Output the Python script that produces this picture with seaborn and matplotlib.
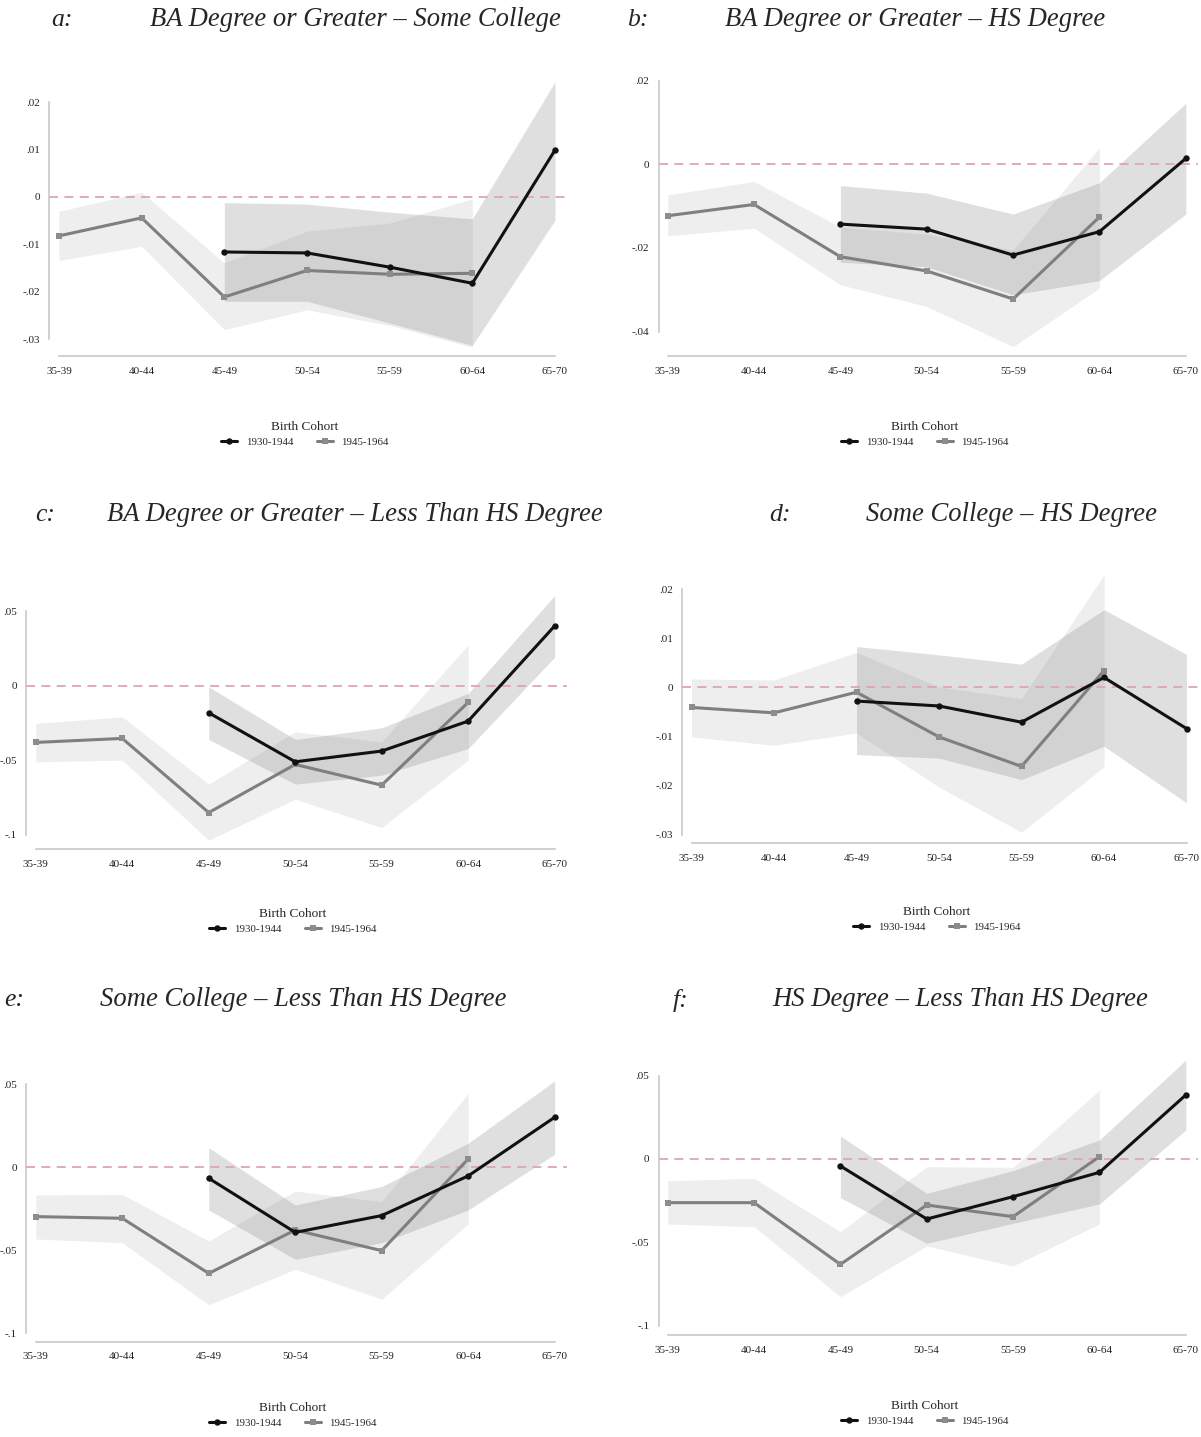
import numpy as np
import pandas as pd
import matplotlib
matplotlib.use("Agg")
import matplotlib.pyplot as plt
import seaborn as sns
from matplotlib.lines import Line2D

sns.set_style("white")
plt.rcParams["font.family"] = ["Liberation Serif", "DejaVu Serif"]

# ---------------- data ----------------
cohorts = ["35-39", "40-44", "45-49", "50-54", "55-59", "60-64", "65-70"]
series_names = ["1930-1944", "1945-1964"]
early_cohorts = ["45-49", "50-54", "55-59", "60-64", "65-70"]
late_cohorts = ["35-39", "40-44", "45-49", "50-54", "55-59", "60-64"]

letters = ["a:", "b:", "c:", "d:", "e:", "f:"]
titles = [
    "BA Degree or Greater \u2013 Some College",
    "BA Degree or Greater \u2013 HS Degree",
    "BA Degree or Greater \u2013 Less Than HS Degree",
    "Some College \u2013 HS Degree",
    "Some College \u2013 Less Than HS Degree",
    "HS Degree \u2013 Less Than HS Degree",
]

# panel a
a_early = [-0.0116, -0.0118, -0.0148, -0.0182, 0.0099]
a_early_lo = [-0.0220, -0.0220, -0.0266, -0.0313, -0.0049]
a_early_hi = [-0.0012, -0.0015, -0.0032, -0.0046, 0.0243]
a_late = [-0.0082, -0.0044, -0.0211, -0.0155, -0.0163, -0.0161]
a_late_lo = [-0.0134, -0.0104, -0.0280, -0.0238, -0.0271, -0.0317]
a_late_hi = [-0.0030, 0.0010, -0.0139, -0.0072, -0.0055, -0.0004]
a_yticks = [0.02, 0.01, 0.0, -0.01, -0.02, -0.03]

# panel b
b_early = [-0.0143, -0.0155, -0.0217, -0.0161, 0.0014]
b_early_lo = [-0.0234, -0.0245, -0.0312, -0.0278, -0.0119]
b_early_hi = [-0.0051, -0.0069, -0.0119, -0.0044, 0.0146]
b_late = [-0.0123, -0.0096, -0.0221, -0.0255, -0.0322, -0.0126]
b_late_lo = [-0.0171, -0.0153, -0.0288, -0.0340, -0.0436, -0.0296]
b_late_hi = [-0.0073, -0.0041, -0.0150, -0.0167, -0.0205, 0.0040]
b_yticks = [0.02, 0.0, -0.02, -0.04]

# panel c
c_early = [-0.0182, -0.0511, -0.0439, -0.0238, 0.0401]
c_early_lo = [-0.0361, -0.0661, -0.0601, -0.0422, 0.0191]
c_early_hi = [-0.0007, -0.0361, -0.0283, -0.0052, 0.0605]
c_late = [-0.0381, -0.0354, -0.0852, -0.0529, -0.0668, -0.0112]
c_late_lo = [-0.0511, -0.0500, -0.1038, -0.0762, -0.0953, -0.0500]
c_late_hi = [-0.0253, -0.0209, -0.0661, -0.0309, -0.0377, 0.0274]
c_yticks = [0.05, 0.0, -0.05, -0.1]

# panel d
d_early = [-0.0028, -0.0038, -0.0071, 0.0020, -0.0084]
d_early_lo = [-0.0137, -0.0144, -0.0188, -0.0120, -0.0235]
d_early_hi = [0.0083, 0.0066, 0.0047, 0.0158, 0.0067]
d_late = [-0.0041, -0.0052, -0.0010, -0.0101, -0.0161, 0.0034]
d_late_lo = [-0.0101, -0.0118, -0.0093, -0.0203, -0.0295, -0.0162]
d_late_hi = [0.0017, 0.0015, 0.0071, 0.0001, -0.0023, 0.0229]
d_yticks = [0.02, 0.01, 0.0, -0.01, -0.02, -0.03]

# panel e
e_early = [-0.0066, -0.0392, -0.0291, -0.0052, 0.0301]
e_early_lo = [-0.0257, -0.0554, -0.0454, -0.0257, 0.0078]
e_early_hi = [0.0118, -0.0227, -0.0116, 0.0145, 0.0520]
e_late = [-0.0297, -0.0307, -0.0639, -0.0378, -0.0502, 0.0050]
e_late_lo = [-0.0432, -0.0454, -0.0829, -0.0614, -0.0795, -0.0341]
e_late_hi = [-0.0167, -0.0163, -0.0444, -0.0143, -0.0207, 0.0446]
e_yticks = [0.05, 0.0, -0.05, -0.1]

# panel f
f_early = [-0.0042, -0.0360, -0.0226, -0.0080, 0.0384]
f_early_lo = [-0.0232, -0.0506, -0.0386, -0.0270, 0.0174]
f_early_hi = [0.0138, -0.0206, -0.0070, 0.0114, 0.0594]
f_late = [-0.0262, -0.0262, -0.0632, -0.0276, -0.0346, 0.0014]
f_late_lo = [-0.0390, -0.0406, -0.0826, -0.0522, -0.0642, -0.0390]
f_late_hi = [-0.0130, -0.0116, -0.0436, -0.0046, -0.0050, 0.0414]
f_yticks = [0.05, 0.0, -0.05, -0.1]

panels = [
    (a_early, a_early_lo, a_early_hi, a_late, a_late_lo, a_late_hi, a_yticks),
    (b_early, b_early_lo, b_early_hi, b_late, b_late_lo, b_late_hi, b_yticks),
    (c_early, c_early_lo, c_early_hi, c_late, c_late_lo, c_late_hi, c_yticks),
    (d_early, d_early_lo, d_early_hi, d_late, d_late_lo, d_late_hi, d_yticks),
    (e_early, e_early_lo, e_early_hi, e_late, e_late_lo, e_late_hi, e_yticks),
    (f_early, f_early_lo, f_early_hi, f_late, f_late_lo, f_late_hi, f_yticks),
]

# ---------------- layout (pixels) ----------------
W, H = 1201, 1437
# yaxis_x, x_first, x_last, zero_px, px_per_unit, xaxis_y
layout = [
    (49, 59, 555, 197.0, 4740, 356),
    (658.5, 667.7, 1185.8, 164.3, 4183, 356),
    (26, 35.8, 554.6, 685.7, 1489, 849.3),
    (682, 691.5, 1186.5, 687.3, 4914, 843.3),
    (26, 35.8, 554.6, 1167.3, 1660, 1341.7),
    (658.5, 667.7, 1185.8, 1159.0, 1667, 1335),
]
# letter x, letter y, title center x
title_pos = [
    (62, 20, 355), (638, 20, 915),
    (45, 515, 355), (780, 515, 1012),
    (14, 1000, 303), (681, 1000, 960),
]
# legend center x, "Birth Cohort" y
legend_pos = [
    (305, 426), (925, 426),
    (293, 913), (937, 911),
    (293, 1407), (925, 1405),
]

BLACK = "#111111"
GRAY = "#7f7f7f"
AXC = "#c4c4c4"
ZERO_C = "#dca3c2"


def fmt(v):
    if abs(v) < 1e-12:
        return "0"
    s = ("%g" % v)
    s = s.replace("0.", ".")
    return s


fig = plt.figure(figsize=(W / 100, H / 100), dpi=100)

pos_map = {c: i for i, c in enumerate(cohorts)}

for k, (pan, lay) in enumerate(zip(panels, layout)):
    e, elo, ehi, l, llo, lhi, yt = pan
    yax, x0, x6, zero, ppu, xay = lay
    unit_px = (x6 - x0) / 6.0
    right_px = x6 + 12
    maxv = max(max(ehi), max(lhi), max(yt))
    top_px = zero - maxv * ppu - 3
    ax = fig.add_axes([yax / W, 1 - xay / H, (right_px - yax) / W, (xay - top_px) / H])

    xe = [pos_map[c] for c in early_cohorts]
    xl = [pos_map[c] for c in late_cohorts]

    ax.fill_between(xl, llo, lhi, color="#808080", alpha=0.13, linewidth=0, zorder=1)
    ax.fill_between(xe, elo, ehi, color="#808080", alpha=0.25, linewidth=0, zorder=1)
    ax.axhline(0, color=ZERO_C, lw=1.3, ls=(0, (5, 3.5)), zorder=2)

    df_l = pd.DataFrame({"x": xl, "y": l})
    df_e = pd.DataFrame({"x": xe, "y": e})
    sns.lineplot(data=df_l, x="x", y="y", ax=ax, color=GRAY, lw=2.2,
                 marker="s", markersize=4.2, markeredgewidth=0,
                 markerfacecolor="#8c8c8c", zorder=3)
    sns.lineplot(data=df_e, x="x", y="y", ax=ax, color=BLACK, lw=2.2,
                 marker="o", markersize=4.6, markeredgewidth=0, zorder=4)

    ax.set_xlabel("")
    ax.set_ylabel("")
    ax.set_xticks(range(len(cohorts)))
    ax.set_xticklabels(cohorts)
    ax.set_yticks(yt)
    ax.set_yticklabels([fmt(v) for v in yt])
    ax.set_xlim(-(x0 - yax) / unit_px, 6 + 12 / unit_px)
    ax.set_ylim((zero - xay) / ppu, (zero - top_px) / ppu)
    for s in ["top", "right"]:
        ax.spines[s].set_visible(False)
    ax.spines["left"].set_bounds(min(yt), max(yt))
    ax.spines["bottom"].set_bounds(0, 6)
    for s in ["left", "bottom"]:
        ax.spines[s].set_color(AXC)
        ax.spines[s].set_linewidth(1.1)
    ax.tick_params(axis="both", which="both", length=3.6, width=0.9, color=AXC,
                   labelsize=8, labelcolor="#222222", pad=3)
    ax.tick_params(axis="x", pad=4)
    ax.patch.set_alpha(0)

    lx, ly, tcx = title_pos[k]
    fig.text(lx / W, 1 - ly / H, letters[k], ha="center", va="center",
             fontsize=18.5, style="italic")
    fig.text(tcx / W, 1 - ly / H, titles[k], ha="center", va="center",
             fontsize=19.2, style="italic")

    lgx, lgy = legend_pos[k]
    handles = [
        Line2D([], [], color=BLACK, lw=2.2, marker="o", markersize=4.6, markeredgewidth=0),
        Line2D([], [], color=GRAY, lw=2.2, marker="s", markersize=4.2, markeredgewidth=0,
               markerfacecolor="#8c8c8c"),
    ]
    leg = fig.legend(handles, series_names, loc="upper center",
                     bbox_to_anchor=(lgx / W, 1 - (lgy - 10) / H),
                     ncol=2, frameon=False, title="Birth Cohort",
                     fontsize=7.8, title_fontsize=9.5, handlelength=1.45,
                     handletextpad=0.8, columnspacing=2.2, borderpad=0,
                     labelspacing=0.2)
    leg._legend_box.sep = 3

fig.savefig("out.png", dpi=100)
